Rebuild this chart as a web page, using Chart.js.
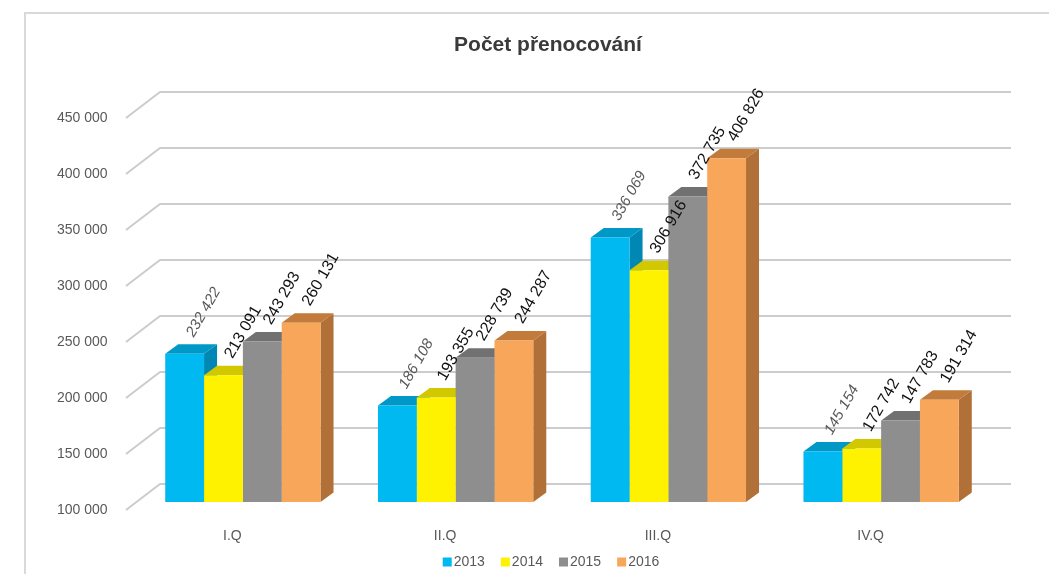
<!DOCTYPE html>
<html>
<head>
<meta charset="utf-8">
<script src="https://cdn.jsdelivr.net/npm/chart.js@4"></script>
<style>
    html, body { margin: 0; padding: 0; background: #fff; }
    #wrap { width: 1049px; height: 574px; position: relative; }
</style>
</head>
<body>
<div id="wrap"><canvas id="chart"></canvas></div>
<script>
/* ---------- Data ---------- */

const quarters = ['I.Q', 'II.Q', 'III.Q', 'IV.Q'];
const years = ['2013', '2014', '2015', '2016'];

const values2013 = [232422, 186108, 336069, 145154];
const values2014 = [213091, 193355, 306916, 147783];
const values2015 = [243293, 228739, 372735, 172742];
const values2016 = [260131, 244287, 406826, 191314];

// labels as printed in the source (IV.Q 2014/2015 appear swapped there)
const labels2013 = ['232 422', '186 108', '336 069', '145 154'];
const labels2014 = ['213 091', '193 355', '306 916', '172 742'];
const labels2015 = ['243 293', '228 739', '372 735', '147 783'];
const labels2016 = ['260 131', '244 287', '406 826', '191 314'];

const yTicks = [100000, 150000, 200000, 250000, 300000, 350000, 400000, 450000];

/* ---------- Style ---------- */

const FONT = '"Liberation Sans", Arial, sans-serif';
const frontColors = ['#00b9f1', '#fff200', '#8e8e8e', '#f8a65a'];
const topColors = ['#0098c6', '#d2c800', '#717171', '#c27b3b'];
const sideColors = ['#0087b3', '#c0b600', '#666666', '#b07037'];

// oblique 3D offsets (px) relative to the bar front plane
const WALL_FRONT = { dx: -10.5, dy: 8 };
const WALL_BACK = { dx: 23.5, dy: -18 };
const BAR_DEPTH = { dx: 13, dy: -9.5 };

function fmt(v) {
    return String(v).replace(/\B(?=(\d{3})+(?!\d))/g, ' ');
}

/* ---------- 3D helpers ---------- */

function poly(ctx, pts, color) {
    ctx.beginPath();
    ctx.moveTo(pts[0][0], pts[0][1]);
    for (let i = 1; i < pts.length; i++) ctx.lineTo(pts[i][0], pts[i][1]);
    ctx.closePath();
    ctx.fillStyle = color;
    ctx.fill();
}

function eachBar(chart, fn) {
    chart.data.datasets.forEach((ds, di) => {
        chart.getDatasetMeta(di).data.forEach((bar, i) => fn(bar, di, i));
    });
}

const threeD = {
    id: 'threeD',
    beforeDatasetsDraw(chart) {
        const { ctx, chartArea, scales } = chart;
        const y = scales.y;
        const floor = chartArea.bottom;
        ctx.save();

        // frame
        ctx.strokeStyle = '#d9d9d9';
        ctx.lineWidth = 2;
        ctx.beginPath();
        ctx.moveTo(25, 580);
        ctx.lineTo(25, 13);
        ctx.lineTo(1060, 13);
        ctx.stroke();

        // back wall gridlines with diagonal run-in
        ctx.strokeStyle = '#cccccc';
        ctx.lineWidth = 2;
        yTicks.forEach(t => {
            const py = y.getPixelForValue(t);
            ctx.beginPath();
            ctx.moveTo(chartArea.left + WALL_FRONT.dx, py + WALL_FRONT.dy);
            ctx.lineTo(chartArea.left + WALL_BACK.dx, py + WALL_BACK.dy);
            ctx.lineTo(chartArea.right + WALL_BACK.dx, py + WALL_BACK.dy);
            ctx.stroke();
        });

        // sides first, then tops; front faces are drawn by Chart.js afterwards
        eachBar(chart, (bar, di) => {
            const x1 = bar.x + bar.width / 2;
            poly(ctx, [
                [x1, bar.y], [x1 + BAR_DEPTH.dx, bar.y + BAR_DEPTH.dy],
                [x1 + BAR_DEPTH.dx, floor + BAR_DEPTH.dy], [x1, floor],
            ], sideColors[di]);
        });
        eachBar(chart, (bar, di) => {
            const x0 = bar.x - bar.width / 2;
            const x1 = bar.x + bar.width / 2;
            poly(ctx, [
                [x0, bar.y], [x1, bar.y],
                [x1 + BAR_DEPTH.dx, bar.y + BAR_DEPTH.dy], [x0 + BAR_DEPTH.dx, bar.y + BAR_DEPTH.dy],
            ], topColors[di]);
        });
        ctx.restore();
    },

    afterDatasetsDraw(chart) {
        const { ctx, chartArea, scales } = chart;
        const y = scales.y;
        const x = scales.x;
        const texts = [labels2013, labels2014, labels2015, labels2016];
        ctx.save();

        // title
        ctx.fillStyle = '#3a3a3a';
        ctx.font = `bold 21px ${FONT}`;
        ctx.textAlign = 'center';
        ctx.textBaseline = 'middle';
        ctx.fillText('Počet přenocování', 548, 45);

        // y labels on the front plane
        ctx.fillStyle = '#595959';
        ctx.font = `14px ${FONT}`;
        ctx.textAlign = 'right';
        yTicks.forEach(t => {
            ctx.fillText(fmt(t), chartArea.left - 29, y.getPixelForValue(t) + WALL_FRONT.dy);
        });

        // category labels
        ctx.textAlign = 'center';
        quarters.forEach((q, i) => {
            ctx.fillText(q, x.getPixelForValue(i) + WALL_FRONT.dx, chartArea.bottom + 34);
        });

        // rotated value labels
        eachBar(chart, (bar, di, i) => {
            ctx.save();
            ctx.translate(bar.x + 9, bar.y - 16);
            ctx.rotate(-60 * Math.PI / 180);
            ctx.textAlign = 'left';
            ctx.textBaseline = 'alphabetic';
            if (di === 0) {
                ctx.font = `italic 15px ${FONT}`;
                ctx.fillStyle = '#595959';
            } else {
                ctx.font = `16px ${FONT}`;
                ctx.fillStyle = '#111111';
            }
            ctx.fillText(texts[di][i], 0, 0);
            ctx.restore();
        });

        // legend
        ctx.font = `14px ${FONT}`;
        ctx.textAlign = 'left';
        ctx.textBaseline = 'middle';
        const box = 9, gap = 2, spacing = 16;
        const widths = years.map(t => box + gap + ctx.measureText(t).width);
        const total = widths.reduce((a, b) => a + b, 0) + spacing * (years.length - 1);
        let lx = 551 - total / 2;
        const ly = 562;
        years.forEach((t, i) => {
            ctx.fillStyle = frontColors[i];
            ctx.fillRect(lx, ly - box / 2, box, box);
            ctx.fillStyle = '#595959';
            ctx.fillText(t, lx + box + gap, ly);
            lx += widths[i] + spacing;
        });
        ctx.restore();
    },
};

/* ---------- Chart ---------- */

const seriesValues = [values2013, values2014, values2015, values2016];

new Chart(document.getElementById('chart'), {
    type: 'bar',
    data: {
        labels: quarters,
        datasets: years.map((yr, i) => ({
            label: yr,
            data: seriesValues[i],
            backgroundColor: frontColors[i],
            borderWidth: 0,
            categoryPercentage: 0.73,
            barPercentage: 1,
        })),
    },
    options: {
        responsive: true,
        maintainAspectRatio: false,
        animation: false,
        layout: { padding: { left: 136.5, right: 61.5, top: 110, bottom: 72 } },
        plugins: {
            legend: { display: false },
            title: { display: false },
            tooltip: { enabled: false },
        },
        scales: {
            x: { display: false },
            y: { display: false, min: 100000, max: 450000 },
        },
    },
    plugins: [threeD],
});
</script>
</body>
</html>
